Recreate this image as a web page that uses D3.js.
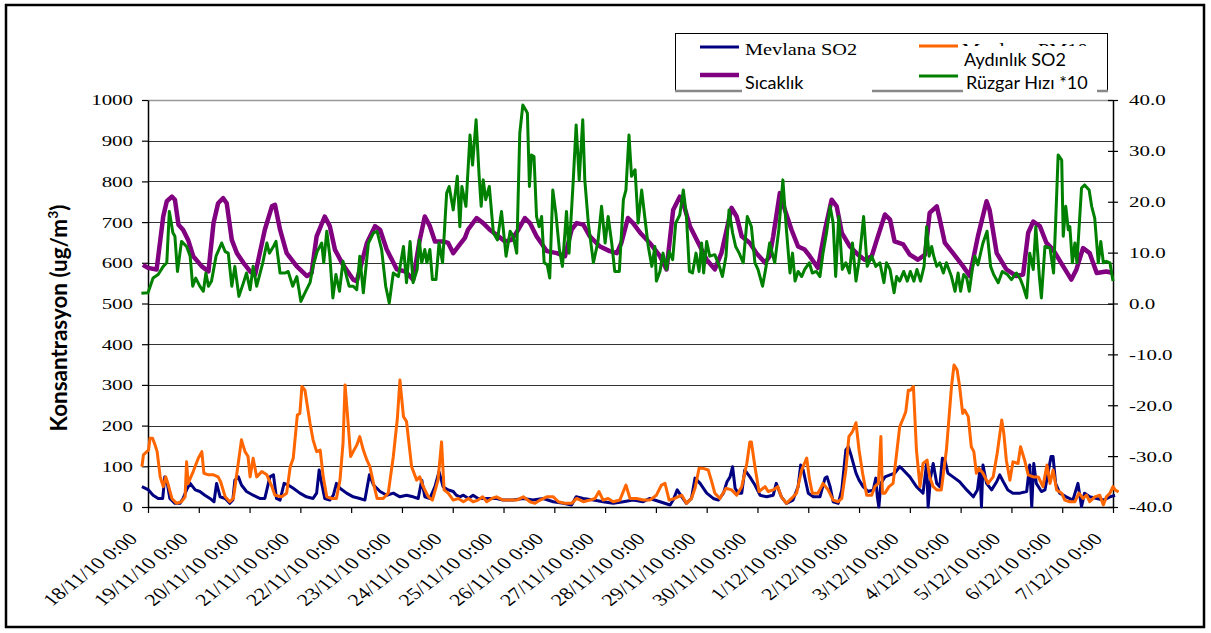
<!DOCTYPE html>
<html>
<head>
<meta charset="utf-8">
<script src="https://cdn.jsdelivr.net/npm/d3@7"></script>
<style>
  body { margin: 0; background: #fff; }
  svg { display: block; }
</style>
</head>
<body>
<svg id="chart" width="1211" height="633"></svg>
<script>
// category labels on the time axis (one per day)
const dayLabels = ["18/11/10 0:00", "19/11/10 0:00", "20/11/10 0:00", "21/11/10 0:00", "22/11/10 0:00",
    "23/11/10 0:00", "24/11/10 0:00", "25/11/10 0:00", "26/11/10 0:00", "27/11/10 0:00",
    "28/11/10 0:00", "29/11/10 0:00", "30/11/10 0:00", "1/12/10 0:00", "2/12/10 0:00",
    "3/12/10 0:00", "4/12/10 0:00", "5/12/10 0:00", "6/12/10 0:00", "7/12/10 0:00"];
const leftTicks = [0, 100, 200, 300, 400, 500, 600, 700, 800, 900, 1000];
const rightTicks = [-40, -30, -20, -10, 0, 10, 20, 30, 40];

// [days since 18/11 0:00, ug/m3]
const mevlanaSO2 = [[-0.12,50],[0.01,42],[0.10,29],[0.20,21],[0.29,21],[0.33,74],[0.38,58],[0.43,21],[0.53,9],[0.63,9],[0.69,21],[0.76,42],[0.83,58],[0.93,42],[1.02,38],[1.12,29],[1.22,21],[1.30,13],[1.35,58],[1.42,25],[1.52,21],[1.61,9],[1.67,17],[1.71,66],[1.78,74],[1.84,54],[1.94,38],[2.07,29],[2.20,21],[2.30,21],[2.40,74],[2.47,79],[2.53,21],[2.60,17],[2.68,58],[2.76,54],[2.86,46],[2.99,34],[3.12,25],[3.25,21],[3.32,34],[3.37,91],[3.42,58],[3.48,21],[3.58,17],[3.65,29],[3.71,58],[3.78,46],[3.91,34],[4.04,25],[4.17,21],[4.27,17],[4.36,79],[4.44,54],[4.57,38],[4.70,29],[4.83,34],[4.96,25],[5.09,29],[5.22,25],[5.32,21],[5.39,66],[5.45,25],[5.55,21],[5.65,50],[5.73,87],[5.81,50],[5.91,42],[6.01,38],[6.07,29],[6.14,25],[6.21,29],[6.31,21],[6.40,29],[6.50,21],[6.60,21],[6.73,21],[6.86,21],[6.99,17],[7.19,17],[7.39,21],[7.58,17],[7.78,21],[7.98,13],[8.18,9],[8.34,5],[8.43,25],[8.57,21],[8.77,17],[8.96,13],[9.16,9],[9.36,13],[9.55,17],[9.75,13],[9.88,21],[10.08,13],[10.28,5],[10.34,17],[10.42,42],[10.51,25],[10.60,9],[10.70,21],[10.77,71],[10.87,58],[11.00,34],[11.13,21],[11.23,17],[11.33,34],[11.40,62],[11.46,74],[11.51,99],[11.56,46],[11.62,34],[11.69,34],[11.75,91],[11.85,74],[11.95,54],[12.05,29],[12.18,25],[12.31,29],[12.37,58],[12.47,25],[12.57,9],[12.70,17],[12.80,50],[12.85,103],[12.90,91],[13.00,34],[13.10,25],[13.23,25],[13.33,71],[13.37,74],[13.43,50],[13.49,13],[13.59,9],[13.66,42],[13.74,140],[13.79,148],[13.85,124],[13.94,83],[14.00,66],[14.08,50],[14.18,38],[14.28,42],[14.33,71],[14.36,25],[14.39,0],[14.43,58],[14.51,74],[14.61,79],[14.70,83],[14.80,99],[14.87,91],[15.00,74],[15.13,50],[15.26,34],[15.33,107],[15.36,0],[15.41,74],[15.46,107],[15.53,58],[15.59,50],[15.64,120],[15.69,115],[15.75,83],[15.85,74],[15.98,62],[16.12,42],[16.25,25],[16.33,42],[16.38,91],[16.41,0],[16.44,103],[16.51,58],[16.61,42],[16.71,62],[16.77,79],[16.84,62],[16.93,42],[17.03,34],[17.17,34],[17.30,38],[17.36,103],[17.40,1],[17.44,107],[17.49,58],[17.59,38],[17.66,42],[17.72,83],[17.78,124],[17.82,124],[17.87,58],[17.95,34],[18.08,25],[18.21,17],[18.31,58],[18.38,1],[18.44,34],[18.54,25],[18.68,21],[18.81,17],[18.94,25],[19.04,29]];

// [days, ug/m3]
const aydinlikSO2 = [[-0.12,99],[-0.09,128],[0.01,140],[0.04,169],[0.09,169],[0.14,152],[0.18,136],[0.24,74],[0.30,50],[0.35,74],[0.40,54],[0.47,21],[0.56,9],[0.66,13],[0.73,25],[0.76,111],[0.79,58],[0.89,87],[0.99,120],[1.06,136],[1.10,83],[1.19,79],[1.29,79],[1.38,74],[1.43,62],[1.52,25],[1.61,13],[1.68,21],[1.75,83],[1.84,165],[1.91,136],[1.97,124],[2.01,74],[2.07,120],[2.14,74],[2.24,87],[2.34,79],[2.44,50],[2.50,29],[2.63,25],[2.73,34],[2.80,99],[2.86,120],[2.94,226],[2.99,230],[3.03,296],[3.09,287],[3.19,206],[3.25,165],[3.32,136],[3.39,140],[3.45,74],[3.52,25],[3.62,21],[3.71,21],[3.78,66],[3.84,157],[3.88,300],[3.92,238],[3.99,124],[4.04,136],[4.11,152],[4.17,173],[4.24,140],[4.31,115],[4.37,99],[4.44,58],[4.51,21],[4.63,21],[4.73,34],[4.83,124],[4.91,218],[4.96,312],[5.03,222],[5.09,210],[5.19,99],[5.29,66],[5.35,74],[5.42,50],[5.52,25],[5.60,17],[5.71,66],[5.78,160],[5.83,42],[5.91,34],[6.01,17],[6.11,21],[6.21,13],[6.31,21],[6.40,13],[6.50,17],[6.59,25],[6.67,13],[6.77,21],[6.86,25],[6.99,17],[7.13,17],[7.26,17],[7.39,25],[7.52,13],[7.62,9],[7.72,17],[7.85,25],[7.98,25],[8.08,13],[8.21,9],[8.34,9],[8.44,21],[8.57,13],[8.70,17],[8.80,21],[8.88,38],[8.96,17],[9.06,21],[9.16,13],[9.29,17],[9.41,54],[9.49,21],[9.62,21],[9.75,17],[9.88,17],[10.01,29],[10.11,54],[10.18,58],[10.26,17],[10.37,21],[10.51,29],[10.60,9],[10.70,21],[10.77,46],[10.85,95],[10.93,95],[11.03,91],[11.10,62],[11.16,34],[11.26,21],[11.38,46],[11.49,42],[11.59,29],[11.69,50],[11.79,107],[11.85,160],[11.88,160],[11.95,99],[12.03,38],[12.15,50],[12.21,38],[12.31,42],[12.40,50],[12.47,25],[12.57,9],[12.67,21],[12.77,34],[12.87,91],[12.97,120],[13.02,71],[13.08,34],[13.19,34],[13.26,50],[13.29,58],[13.39,42],[13.49,17],[13.59,13],[13.66,21],[13.74,91],[13.80,173],[13.87,185],[13.94,207],[14.00,140],[14.07,83],[14.15,29],[14.25,29],[14.31,50],[14.38,58],[14.43,173],[14.46,34],[14.51,34],[14.59,50],[14.67,58],[14.74,132],[14.80,197],[14.87,218],[14.92,234],[14.97,287],[15.01,287],[15.07,296],[15.13,140],[15.20,50],[15.26,107],[15.34,115],[15.39,74],[15.46,50],[15.53,42],[15.62,42],[15.72,140],[15.82,296],[15.87,349],[15.93,337],[15.98,296],[16.04,230],[16.08,238],[16.15,222],[16.21,148],[16.26,136],[16.31,83],[16.36,95],[16.44,83],[16.54,58],[16.64,74],[16.72,132],[16.81,214],[16.85,181],[16.90,115],[16.97,66],[17.03,111],[17.13,107],[17.18,148],[17.26,115],[17.33,79],[17.43,74],[17.53,74],[17.62,50],[17.70,103],[17.76,58],[17.82,91],[17.89,42],[17.99,34],[18.05,17],[18.15,13],[18.25,13],[18.33,34],[18.41,21],[18.48,29],[18.54,13],[18.64,25],[18.74,29],[18.81,5],[18.87,25],[18.94,34],[19.00,50],[19.04,42],[19.11,37]];

// [days, degC] on the right axis
const sicaklik = [[-0.1,7.6],[0.0,7.0],[0.17,6.7],[0.30,17.1],[0.37,20.1],[0.47,21.0],[0.53,20.4],[0.60,15.5],[0.69,14.5],[0.79,12.5],[0.89,9.3],[1.06,7.3],[1.19,6.3],[1.29,15.8],[1.38,19.7],[1.48,20.7],[1.55,19.7],[1.65,12.5],[1.75,9.9],[1.88,8.0],[2.01,6.3],[2.11,5.7],[2.30,14.5],[2.44,19.1],[2.50,19.4],[2.60,14.5],[2.73,9.9],[2.93,7.3],[3.13,5.4],[3.22,6.0],[3.32,13.2],[3.48,17.1],[3.58,15.2],[3.68,10.6],[3.84,7.6],[4.04,4.7],[4.11,4.4],[4.31,11.9],[4.47,15.2],[4.57,14.5],[4.70,10.6],[4.90,6.7],[5.07,6.3],[5.22,4.7],[5.35,12.5],[5.45,17.1],[5.55,15.2],[5.65,12.2],[5.81,12.2],[5.91,11.9],[6.01,9.9],[6.14,11.6],[6.24,12.9],[6.30,14.5],[6.47,16.8],[6.60,15.8],[6.73,14.5],[6.90,13.2],[7.03,12.2],[7.16,12.5],[7.29,14.5],[7.42,16.8],[7.52,15.8],[7.65,13.2],[7.85,10.3],[8.05,9.9],[8.21,9.3],[8.34,14.5],[8.44,15.8],[8.57,15.5],[8.70,13.2],[8.90,11.2],[9.09,10.3],[9.23,9.9],[9.32,11.9],[9.45,16.8],[9.55,15.8],[9.69,13.9],[9.88,11.9],[10.08,9.3],[10.21,6.7],[10.34,18.4],[10.47,21.0],[10.54,19.7],[10.67,15.2],[10.87,11.2],[11.00,8.6],[11.16,6.7],[11.29,9.9],[11.49,18.8],[11.59,17.1],[11.69,13.2],[11.85,11.9],[11.98,9.9],[12.15,8.0],[12.24,9.3],[12.31,13.2],[12.44,21.7],[12.54,18.4],[12.67,14.5],[12.80,11.2],[12.93,10.6],[13.03,9.3],[13.19,7.0],[13.33,14.5],[13.46,20.4],[13.56,19.1],[13.66,13.9],[13.82,11.2],[13.98,9.6],[14.11,8.6],[14.25,9.3],[14.34,12.2],[14.51,17.5],[14.61,16.5],[14.70,12.2],[14.87,11.6],[15.00,9.6],[15.16,8.6],[15.30,9.6],[15.39,17.8],[15.53,19.1],[15.59,16.5],[15.69,11.9],[15.85,9.9],[16.05,7.3],[16.18,5.4],[16.34,13.2],[16.51,20.1],[16.57,18.4],[16.71,9.9],[16.90,6.7],[17.10,5.4],[17.23,5.7],[17.33,13.9],[17.43,16.1],[17.56,15.2],[17.69,11.9],[17.82,10.6],[18.02,7.3],[18.18,4.7],[18.28,6.7],[18.41,10.9],[18.54,9.9],[18.68,6.0],[18.87,6.3],[19.0,6.0]];

// [days, wind speed x10] on the right axis
const ruzgar = [[-0.13,2.0],[0.00,2.1],[0.10,5.0],[0.20,5.7],[0.30,7.3],[0.37,8.0],[0.42,18.1],[0.49,13.9],[0.53,13.2],[0.58,6.3],[0.66,12.2],[0.76,11.2],[0.83,9.3],[0.88,3.4],[0.94,5.0],[1.02,3.4],[1.09,2.4],[1.14,6.0],[1.19,3.4],[1.25,4.4],[1.34,9.3],[1.45,11.9],[1.52,10.2],[1.58,9.9],[1.65,3.4],[1.71,7.3],[1.79,1.4],[1.88,4.1],[1.94,6.0],[2.01,2.7],[2.07,7.3],[2.14,3.4],[2.26,8.0],[2.34,11.9],[2.39,9.9],[2.47,11.2],[2.52,12.2],[2.60,6.0],[2.70,6.0],[2.76,6.3],[2.85,3.4],[2.93,5.3],[3.01,0.4],[3.09,2.1],[3.19,4.1],[3.25,7.3],[3.33,10.2],[3.42,11.9],[3.46,8.0],[3.52,14.2],[3.58,9.3],[3.64,1.1],[3.70,5.7],[3.77,2.4],[3.84,8.3],[3.91,5.3],[3.96,3.4],[4.04,3.4],[4.11,2.7],[4.17,9.3],[4.24,2.1],[4.34,11.9],[4.44,13.9],[4.51,14.2],[4.60,10.6],[4.68,3.4],[4.75,0.1],[4.83,6.0],[4.93,5.3],[5.03,11.2],[5.09,4.1],[5.16,12.2],[5.22,4.1],[5.30,6.7],[5.34,12.5],[5.39,8.0],[5.45,10.6],[5.49,8.0],[5.55,10.6],[5.60,4.7],[5.67,4.7],[5.73,11.9],[5.80,8.0],[5.88,21.7],[5.93,23.0],[6.01,18.4],[6.09,25.0],[6.14,15.1],[6.18,23.0],[6.26,19.1],[6.34,33.1],[6.39,27.2],[6.46,36.1],[6.52,25.0],[6.56,19.1],[6.60,24.3],[6.65,20.4],[6.72,23.0],[6.80,13.9],[6.88,12.5],[6.96,18.1],[7.05,9.3],[7.13,14.2],[7.19,13.2],[7.26,9.9],[7.32,33.5],[7.38,39.0],[7.44,38.0],[7.47,37.4],[7.51,23.0],[7.55,29.2],[7.60,28.9],[7.65,17.1],[7.70,15.1],[7.75,17.1],[7.80,8.0],[7.86,7.6],[7.91,5.0],[7.97,22.3],[8.03,17.8],[8.10,10.6],[8.16,7.3],[8.24,18.1],[8.29,9.9],[8.37,23.7],[8.43,35.1],[8.49,24.3],[8.56,36.1],[8.60,24.3],[8.67,15.8],[8.77,8.0],[8.86,12.2],[8.93,19.1],[9.00,11.9],[9.06,17.1],[9.13,11.9],[9.19,6.3],[9.28,6.3],[9.36,20.4],[9.41,22.3],[9.47,33.1],[9.52,25.0],[9.59,26.3],[9.65,15.8],[9.72,22.3],[9.78,17.1],[9.85,11.2],[9.92,7.3],[9.98,11.2],[10.01,4.4],[10.08,6.3],[10.14,9.9],[10.21,6.7],[10.26,10.2],[10.33,8.6],[10.39,15.8],[10.47,17.4],[10.54,22.3],[10.60,17.4],[10.66,6.3],[10.72,6.0],[10.79,9.9],[10.85,6.3],[10.90,11.9],[10.94,6.0],[11.00,12.2],[11.06,9.3],[11.16,9.6],[11.25,7.3],[11.31,5.3],[11.38,9.3],[11.44,18.4],[11.51,13.9],[11.57,11.2],[11.64,9.9],[11.72,8.0],[11.80,17.1],[11.88,15.1],[11.95,8.0],[12.01,6.7],[12.10,3.4],[12.17,7.3],[12.24,11.9],[12.34,8.0],[12.42,14.5],[12.50,24.3],[12.57,14.5],[12.64,6.0],[12.69,9.9],[12.74,4.4],[12.80,6.3],[12.87,5.3],[12.93,6.7],[13.02,8.0],[13.08,6.0],[13.16,6.3],[13.23,5.3],[13.29,9.9],[13.36,13.9],[13.43,19.1],[13.49,15.8],[13.54,5.3],[13.60,17.1],[13.67,6.7],[13.74,8.0],[13.81,6.0],[13.87,11.9],[13.94,4.4],[14.00,8.3],[14.09,17.1],[14.16,7.3],[14.25,9.3],[14.33,7.3],[14.41,8.0],[14.49,4.1],[14.54,8.0],[14.61,6.7],[14.69,2.1],[14.74,5.3],[14.80,4.4],[14.88,6.3],[14.95,4.4],[15.01,6.3],[15.08,4.4],[15.14,6.7],[15.21,4.4],[15.28,7.3],[15.33,15.1],[15.38,9.3],[15.43,11.2],[15.47,9.3],[15.53,7.3],[15.59,8.0],[15.66,6.0],[15.72,8.0],[15.82,5.3],[15.89,2.4],[15.95,6.0],[16.00,2.4],[16.06,5.7],[16.12,5.0],[16.17,2.4],[16.23,6.7],[16.28,9.3],[16.34,7.6],[16.44,11.9],[16.52,14.2],[16.59,7.3],[16.65,5.7],[16.74,4.1],[16.82,6.3],[16.92,5.7],[17.00,4.7],[17.10,6.0],[17.18,4.7],[17.23,3.4],[17.30,1.1],[17.36,9.9],[17.43,6.7],[17.48,15.1],[17.55,5.3],[17.59,1.1],[17.66,11.2],[17.76,10.9],[17.83,6.0],[17.87,15.8],[17.92,29.2],[17.99,28.2],[18.02,13.2],[18.07,19.1],[18.12,14.5],[18.15,15.1],[18.20,8.0],[18.25,11.9],[18.29,8.0],[18.38,22.7],[18.44,23.3],[18.53,22.3],[18.58,19.1],[18.64,16.8],[18.71,8.0],[18.76,12.2],[18.81,8.0],[18.87,8.3],[18.94,8.0],[19.00,4.4]];

const svg = d3.select("#chart");
const serif = "'Liberation Serif', 'Times New Roman', serif";
const sans = "Lato, 'Liberation Sans', sans-serif";

// plot box
const plotL = 148, plotR = 1113, plotT = 100, plotB = 507;
const x = d3.scaleLinear().domain([0, dayLabels.length - 1]).range([plotL, plotR]);
const yL = d3.scaleLinear().domain([0, 1000]).range([plotB, plotT]);
const yR = d3.scaleLinear().domain([-40, 40]).range([plotB, plotT]);

// outer frame
svg.append("rect")
    .attr("x", 6).attr("y", 5).attr("width", 1198).attr("height", 622)
    .attr("fill", "none").attr("stroke", "#000").attr("stroke-width", 2.5);

// horizontal gridlines
svg.append("g")
    .selectAll("line")
    .data(leftTicks.filter(d => d > 0))
    .join("line")
    .attr("x1", plotL).attr("x2", plotR)
    .attr("y1", d => Math.round(yL(d)) + 0.5).attr("y2", d => Math.round(yL(d)) + 0.5)
    .attr("stroke", d => d === 1000 ? "#999" : "#333")
    .attr("stroke-width", d => d === 1000 ? 1.5 : 1);

// axes
const stretch = 1.35; // tick text in the source is drawn wide
const gLeft = svg.append("g").attr("transform", `translate(${plotL},0)`)
    .call(d3.axisLeft(yL).tickValues(leftTicks).tickSize(6).tickSizeOuter(0).tickFormat(d3.format("d")));
gLeft.selectAll(".tick text")
    .attr("x", -15 / stretch)
    .attr("transform", `scale(${stretch},1)`)
    .style("font-family", serif).style("font-size", "15.5px").attr("fill", "#000");

const gRight = svg.append("g").attr("transform", `translate(${plotR},0)`)
    .call(d3.axisRight(yR).tickValues(rightTicks).tickSize(5).tickSizeOuter(0).tickFormat(d3.format(".1f")));
gRight.selectAll(".tick line").attr("x1", -5);
gRight.selectAll(".tick text")
    .attr("x", 16 / stretch)
    .attr("transform", `scale(${stretch},1)`)
    .text(d => d3.format(".1f")(d).replace("−", "-"))
    .style("font-family", serif).style("font-size", "15.5px").attr("fill", "#000");

const gBottom = svg.append("g").attr("transform", `translate(0,${plotB})`)
    .call(d3.axisBottom(x).tickValues(d3.range(dayLabels.length)).tickSize(6).tickSizeOuter(0)
        .tickFormat(i => dayLabels[i]));
gBottom.selectAll(".tick text")
    .attr("x", null).attr("y", null).attr("dy", null)
    .attr("text-anchor", "end")
    .attr("transform", "translate(-10,33) scale(1.3,1) rotate(-45)")
    .style("font-family", serif).style("font-size", "17px").attr("fill", "#000");

[gLeft, gRight, gBottom].forEach(g => {
    g.select(".domain").attr("stroke", "#000").attr("stroke-width", 1.5);
    g.selectAll(".tick line").attr("stroke", "#000").attr("stroke-width", 1.2);
});

// axis title, sized so it spans the same height as in the source
const title = svg.append("text")
    .attr("transform", "translate(67,318) rotate(-90)")
    .attr("text-anchor", "middle")
    .style("font-family", sans).style("font-weight", "bold").style("font-size", "19px")
    .text("Konsantrasyon (ug/m");
title.append("tspan").attr("dy", -8).style("font-size", "12px").text("3");
title.append("tspan").attr("dy", 8).text(")");
const titleLen = title.node().getComputedTextLength();
const titleSize = 19 * 227 / titleLen;
title.style("font-size", titleSize + "px");
title.select("tspan").style("font-size", (titleSize * 0.62) + "px").attr("dy", -titleSize * 0.42);
title.selectAll("tspan").filter((d, i) => i === 1).attr("dy", titleSize * 0.42);

// series
const lineL = d3.line().x(d => x(d[0])).y(d => yL(d[1]));
const lineR = d3.line().x(d => x(d[0])).y(d => yR(d[1]));
const series = [
    { data: mevlanaSO2, gen: lineL, color: "#000080", width: 3 },
    { data: aydinlikSO2, gen: lineL, color: "#FF6600", width: 3 },
    { data: sicaklik, gen: lineR, color: "#800080", width: 4.5 },
    { data: ruzgar, gen: lineR, color: "#008000", width: 3 }
];
svg.append("g").selectAll("path")
    .data(series)
    .join("path")
    .attr("d", s => s.gen(s.data))
    .attr("fill", "none")
    .attr("stroke", s => s.color)
    .attr("stroke-width", s => s.width)
    .attr("stroke-linejoin", "round");

// legend (with the pasted-over text boxes of the original)
const leg = svg.append("g");
leg.append("rect").attr("x", 675.5).attr("y", 33.5).attr("width", 432).attr("height", 57)
    .attr("fill", "#fff").attr("stroke", "#000").attr("stroke-width", 1);
leg.append("line").attr("x1", 675).attr("x2", 1108).attr("y1", 91).attr("y2", 91)
    .attr("stroke", "#888").attr("stroke-width", 2.5);

const legItems = [
    { color: "#000080", width: 3, x: 700, y: 47 },
    { color: "#FF6600", width: 3, x: 919, y: 46 },
    { color: "#800080", width: 4.5, x: 700, y: 75 },
    { color: "#008000", width: 3, x: 919, y: 76 }
];
leg.selectAll(".sample")
    .data(legItems)
    .join("line")
    .attr("class", "sample")
    .attr("x1", d => d.x).attr("x2", d => d.x + 39)
    .attr("y1", d => d.y).attr("y2", d => d.y)
    .attr("stroke", d => d.color).attr("stroke-width", d => d.width);

leg.append("text").attr("x", 745 / 1.16).attr("y", 55)
    .attr("transform", "scale(1.16,1)")
    .style("font-family", serif).style("font-size", "17.5px").text("Mevlana SO2");
// only the top of this entry shows above the pasted box
leg.append("clipPath").attr("id", "pmclip")
    .append("rect").attr("x", 955).attr("y", 36).attr("width", 150).attr("height", 10);
leg.append("g").attr("clip-path", "url(#pmclip)")
    .append("text").attr("x", 962 / 1.16).attr("y", 55)
    .attr("transform", "scale(1.16,1)")
    .style("font-family", serif).style("font-size", "17.5px").text("Mevlana PM10");

const boxes = [
    { x: 961, y: 46, w: 140, h: 26, label: "Aydınlık SO2", ty: 66 },
    { x: 742, y: 76, w: 130, h: 19, label: "Sıcaklık", ty: 89 },
    { x: 963, y: 76, w: 134, h: 19, label: "Rüzgar Hızı *10", ty: 89 }
];
leg.selectAll(".cover")
    .data(boxes)
    .join("rect")
    .attr("class", "cover")
    .attr("x", d => d.x).attr("y", d => d.y).attr("width", d => d.w).attr("height", d => d.h)
    .attr("fill", "#fff");
leg.selectAll(".ctext")
    .data(boxes)
    .join("text")
    .attr("class", "ctext")
    .attr("x", d => d.x + 3).attr("y", d => d.ty)
    .style("font-family", sans).style("font-size", "18px")
    .text(d => d.label);
</script>
</body>
</html>
